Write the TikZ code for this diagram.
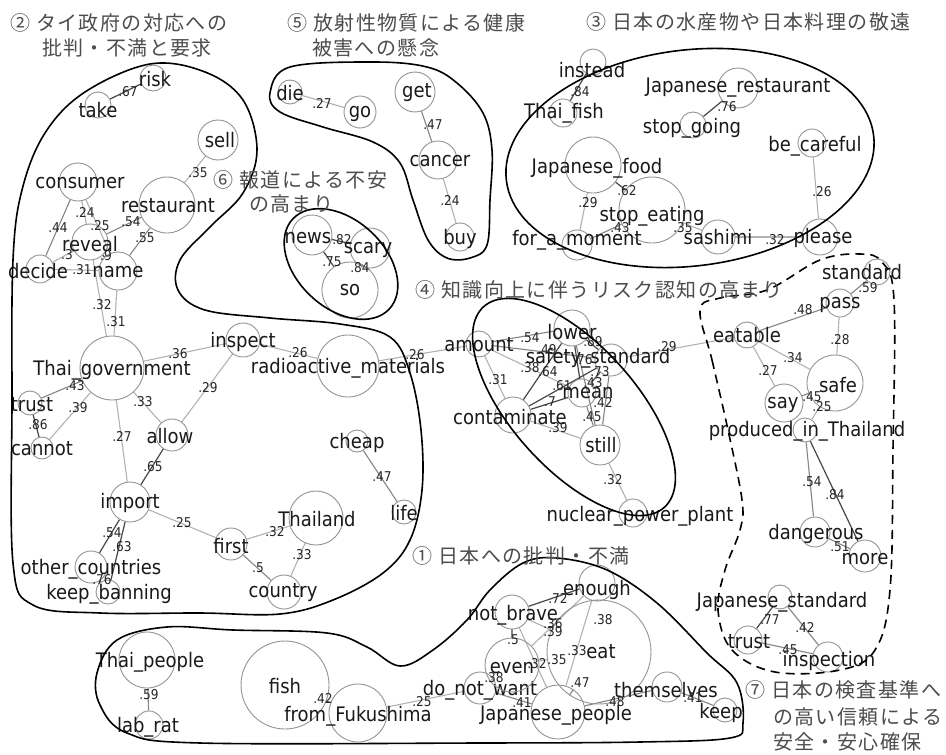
\documentclass[tikz,border=0pt]{standalone}
\usepackage{fontspec}
\setmainfont{DejaVu Sans}[FakeStretch=0.9]
\newfontfamily\cjk{Noto Sans CJK JP}[LetterSpace=7]
\pgfdeclarelayer{bg}
\pgfsetlayers{bg,main}
\tikzset{
  wc/.style={circle, draw=black!42, line width=0.9pt, inner sep=0pt},
  wt/.style={font=\fontsize{20}{22}\selectfont, inner sep=0pt, text=black!90},
  el/.style={font=\fontsize{13.5}{14}\selectfont, inner sep=0pt, text=black!85},
  ew/.style={draw=black!30, line width=1.1pt},
  em/.style={draw=black!48, line width=1.1pt},
  es/.style={draw=black!72, line width=1.2pt},
  grp/.style={draw=black, line width=1.6pt},
  jl/.style={font=\cjk\fontsize{20}{22}\selectfont, text=black!70, inner sep=0pt, anchor=west},
}
\begin{document}
\begin{tikzpicture}[x=1pt,y=-1pt]
\useasboundingbox (0,0) rectangle (946,755);
\begin{pgfonlayer}{bg}
\fill[white] (0,0) rectangle (946,755);
\end{pgfonlayer}

% word circles and labels
\foreach \n/\cx/\cy/\r/\tx/\ty/\t in {
risk/153/78/13/155/79/risk,
take/98/105/13/98/110/take,
sell/218/140/20/220/140/sell,
consumer/78/182/19/80/183/consumer,
restaurant/167/205/28/168/206/restaurant,
reveal/90/242/18/90/244/reveal,
decide/40/269/14/38/271/decide,
name/118/271/19/118/272/name,
thaigov/112/368/32/112/370/Thai\_government,
trustl/30/403/12/32/405/trust,
cannot/42/448/11/42/449/cannot,
allow/172/435/16/170/436/allow,
inspect/243/340/17/243/342/inspect,
radio/348/366/31/348/368/radioactive\_materials,
cheap/357/441/11/357/443/cheap,
life/404/512/12/404/513/life,
import/130/502/20/130/503/import,
first/231/544/16/231/546/first,
thailand/316/518/27/317/519/Thailand,
country/284/592/17/283/593/country,
others/91/567/16/91/569/other\_countries,
keepban/108/592/12/109/594/keep\_banning,
thaipeople/147/660/28/150/662/Thai\_people,
labrat/149/725/14/148/727/lab\_rat,
fish/285/685/44/285/686/fish,
fromf/358/713/29/358/716/from\_Fukushima,
donot/480/688/16/480/690/do\_not\_want,
even/512/665/27/512/668/even,
notbrave/512/612/17/513/615/not\_brave,
enough/597/583/18/597/590/enough,
eat/599/652/52/601/652/eat,
jpeople/558/712/27/556/715/Japanese\_people,
themselves/667/687/15/666/690/themselves,
keep/725/710/12/721/713/keep,
die/290/92/12/290/93/die,
go/360/112/16/360/114/go,
get/415/92/20/417/93/get,
cancer/438/160/19/440/161/cancer,
buy/460/237/14/460/239/buy,
news/312/235/20/308/238/news,
scary/370/248/20/368/250/scary,
so/350/290/28/350/290/so,
instead/593/62/13/592/70/instead,
thaifish/563/113/14/564/113/Thai\_fish,
jrest/738/88/20/738/88/Japanese\_restaurant,
stopgoing/693/125/13/692/128/stop\_going,
becareful/812/143/14/815/146/be\_careful,
jfood/593/165/28/597/168/Japanese\_food,
stopeating/652/210/33/652/216/stop\_eating,
moment/577/245/15/577/240/for\_a\_moment,
sashimi/718/237/17/718/237/sashimi,
please/820/237/18/823/238/please,
amount/479/344/13/479/345/amount,
lower/572/328/18/572/332/lower,
safety/611/360/16/598/358/safety\_standard,
mean/582/393/14/588/393/mean,
contaminate/513/415/18/510/417/contaminate,
still/600/445/20/601/445/still,
npp/633/513/14/640/516/nuclear\_power\_plant,
standard/877/272/13/862/272/standard,
pass/840/303/14/840/305/pass,
eatable/747/335/13/747/335/eatable,
safe/835/383/28/838/385/safe,
say/784/403/19/783/405/say,
produced/805/430/12/807/431/produced\_in\_Thailand,
dangerous/815/532/15/816/534/dangerous,
more/865/556/16/865/559/more,
jstandard/780/597/12/782/602/Japanese\_standard,
trustr/748/640/14/749/642/trust,
inspection/828/657/15/829/661/inspection}
{
  \node[wc, minimum size={(2*\r)*1pt}] (\n) at (\cx,\cy) {};
  \node[wt] (\n-t) at (\tx,\ty) {\t};
}

% connectors
\begin{pgfonlayer}{bg}
\foreach \a/\b in {sell/restaurant, consumer/reveal, name/consumer, reveal/decide, decide/name,
  reveal/thaigov, name/thaigov, thaigov/inspect, thaigov/cannot, thaigov/allow, thaigov/import,
  inspect/allow, inspect/radio, radio/amount, import/first, first/thailand, thailand/country,
  fromf/donot, die/go, cancer/buy, jfood/moment, stopeating/sashimi, sashimi/please,
  becareful/please, amount/mean, amount/contaminate, contaminate/still, safety/eatable,
  still/npp, pass/safe, eatable/safe, eatable/say, safe/produced, enough/eat, even/enough,
  notbrave/eat, even/eat, notbrave/jpeople, jpeople/enough, even/donot}
  \draw[ew] (\a) -- (\b);
\foreach \a/\b in {consumer/decide, reveal/restaurant, restaurant/name, thaigov/trustl,
  cheap/life, first/country, fish/fromf, get/cancer, moment/stopeating, amount/lower,
  amount/safety, lower/still, safety/still, mean/still, pass/eatable, safe/say,
  produced/dangerous, dangerous/more, jstandard/inspection, trustr/inspection,
  notbrave/even, donot/jpeople, eat/jpeople, jpeople/themselves, themselves/keep,
  standard/pass, thaipeople/labrat}
  \draw[em] (\a) -- (\b);
\foreach \a/\b in {take/risk, reveal/name, trustl/cannot, allow/import, import/others,
  import/keepban, others/keepban, news/scary, news/so, scary/so, instead/thaifish,
  jrest/stopgoing, jfood/stopeating, contaminate/lower, lower/safety, lower/mean,
  safety/mean, contaminate/safety, contaminate/mean, produced/more, jstandard/trustr,
  notbrave/enough}
  \draw[es] (\a) -- (\b);
\end{pgfonlayer}

% connector values
\foreach \i/\x/\y/\t in {
1/128/92/.67, 2/198/173/.35, 3/58/228/.44, 4/85/212/.24, 5/100/226/.25, 6/131/222/.54,
7/145/238/.55, 8/67/255/.3, 9/106/256/.9, 10/82/270/.31, 11/102/305/.32, 12/116/322/.31,
13/178/354/.36, 14/75/386/.43, 15/78/408/.39, 16/38/425/.86, 17/143/402/.33, 18/122/436/.27,
19/208/388/.29, 20/298/353/.26, 21/415/355/.26, 22/153/467/.65, 23/382/477/.47,
24/112/533/.54, 25/122/547/.63, 26/102/580/.76, 27/182/523/.25, 28/275/532/.32,
29/258/568/.5, 30/302/555/.33, 31/149/695/.59, 32/323/698/.42, 33/422/702/.25,
34/322/103/.27, 35/433/125/.47, 36/450/200/.24, 37/342/240/.82, 38/332/262/.75,
39/360/268/.84, 40/580/92/.84, 41/727/107/.76, 42/627/191/.62, 43/588/203/.29,
44/620/228/.43, 45/683/228/.35, 46/775/240/.32, 47/822/192/.26, 48/530/338/.54,
49/547/350/.49, 50/530/368/.38, 51/498/380/.31, 52/548/372/.64, 53/593/342/.89,
54/583/360/.76, 55/600/372/.73, 56/562/386/.61, 57/550/402/.7, 58/593/383/.43,
59/603/402/.42, 60/592/417/.45, 61/558/428/.39, 62/667/347/.29, 63/613/480/.32,
64/868/288/.59, 65/803/310/.48, 66/840/340/.28, 67/793/358/.34, 68/768/370/.27,
69/812/397/.45, 70/822/407/.25, 71/812/482/.54, 72/835/495/.84, 73/840/547/.51,
74/770/620/.77, 75/805/627/.42, 76/788/650/.45, 77/558/598/.72, 78/603/620/.38,
79/553/624/.36, 80/553/632/.39, 81/513/640/.5, 82/537/664/.32, 83/557/660/.35,
84/577/651/.33, 85/494/678/.38, 86/522/703/.41, 87/580/683/.47, 88/615/702/.48,
89/693/698/.41}
  \node[el] (v\i) at (\x,\y) {\t};

% group outlines
\draw[grp] plot[smooth cycle, tension=0.6] coordinates {
 (13,260) (22,190) (45,133) (85,92) (150,64) (205,72) (243,100) (257,150) (243,193)
 (210,227) (180,260) (178,290) (205,310) (270,318) (340,324) (390,337) (410,373)
 (421,430) (422,490) (410,540) (383,573) (333,600) (280,614) (200,613) (100,613)
 (33,605) (13,563) (12,400)};
\draw[grp] plot[smooth cycle, tension=0.6] coordinates {
 (270,93) (290,67) (373,62) (427,67) (457,83) (483,113) (492,150) (490,200) (487,245)
 (470,258) (447,258) (428,240) (413,200) (400,163) (373,142) (323,127) (280,112)};
\draw[grp] plot[smooth cycle, tension=0.6] coordinates {
 (97,673) (117,640) (167,627) (233,630) (327,633) (367,647) (400,666) (433,650)
 (467,620) (490,590) (523,563) (557,558) (607,570) (657,603) (707,653) (737,683)
 (743,723) (730,738) (640,742) (480,743) (200,743) (127,733) (100,705)};
\draw[grp, dash pattern=on 9pt off 6pt] plot[smooth cycle, tension=0.6] coordinates {
 (700,310) (712,360) (728,430) (742,500) (740,530) (725,570) (718,610) (732,650)
 (775,672) (840,670) (875,650) (890,590) (893,450) (894,300) (882,262) (860,254)
 (820,260) (767,290) (720,298)};
\draw[grp, rotate around={-43:(341,264)}] (341,264) ellipse [x radius=66pt, y radius=44pt];
\draw[grp, rotate around={7:(690,158)}] (690,158) ellipse [x radius=185pt, y radius=108pt];
\draw[grp, rotate around={-48:(574,407)}] (574,407) ellipse [x radius=135pt, y radius=62pt];

% group titles
\node[jl] (g2a) at (10,23) {②\hspace{0.3em}タイ政府の対応への};
\node[jl] (g2b) at (42,48) {批判・不満と要求};
\node[jl] (g5a) at (287,23) {⑤\hspace{0.3em}放射性物質による健康};
\node[jl] (g5b) at (312,48) {被害への懸念};
\node[jl] (g3) at (586,22) {③\hspace{0.3em}日本の水産物や日本料理の敬遠};
\node[jl] (g6a) at (213,180) {⑥\hspace{0.3em}報道による不安};
\node[jl] (g6b) at (249,204) {の高まり};
\node[jl] (g4) at (415,290) {④\hspace{0.3em}知識向上に伴うリスク認知の高まり};
\node[jl] (g1) at (412,556) {①\hspace{0.3em}日本への批判・不満};
\node[jl] (g7a) at (745,690) {⑦\hspace{0.3em}日本の検査基準へ};
\node[jl] (g7b) at (773,717) {の高い信頼による};
\node[jl] (g7c) at (773,742) {安全・安心確保};
\end{tikzpicture}
\end{document}
